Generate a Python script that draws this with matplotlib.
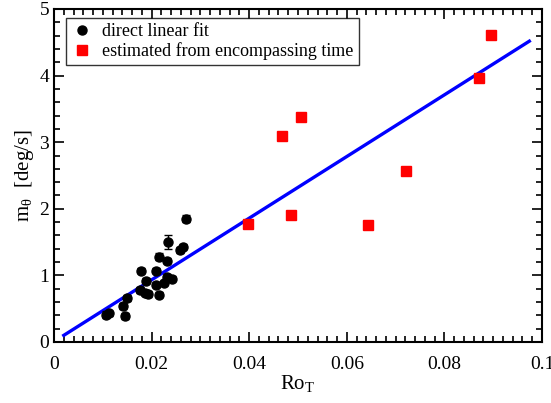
import matplotlib
matplotlib.use("Agg")
import matplotlib.pyplot as plt
from matplotlib.ticker import MultipleLocator
from matplotlib.lines import Line2D
import numpy as np

plt.rcParams['font.family'] = ['Liberation Serif', 'DejaVu Serif']
plt.rcParams['mathtext.fontset'] = 'custom'
plt.rcParams['mathtext.rm'] = 'Liberation Serif'
plt.rcParams['mathtext.it'] = 'Liberation Serif:italic'

# direct linear fit points
ro_direct = [0.0270, 0.0234, 0.0258, 0.0264, 0.0215, 0.0232, 0.0178, 0.0209,
             0.0231, 0.0242, 0.0189, 0.0209, 0.0225, 0.0176, 0.0186, 0.0193,
             0.0215, 0.0150, 0.0141, 0.0107, 0.0145, 0.0112]
m_direct = [1.85, 1.50, 1.38, 1.43, 1.28, 1.22, 1.07, 1.07,
            0.98, 0.95, 0.92, 0.86, 0.89, 0.78, 0.74, 0.72,
            0.71, 0.66, 0.54, 0.41, 0.39, 0.43]
m_direct_err = [0.05, 0.11, 0.04, 0.04, 0.05, 0.04, 0.04, 0.04,
                0.04, 0.04, 0.04, 0.04, 0.04, 0.04, 0.04, 0.04,
                0.04, 0.04, 0.04, 0.05, 0.04, 0.04]

# estimated from encompassing time
ro_est = [0.0398, 0.0467, 0.0506, 0.0486, 0.0643, 0.0721, 0.0871, 0.0895]
m_est = [1.77, 3.09, 3.38, 1.91, 1.76, 2.57, 3.96, 4.61]

# fit line
fit_x = [0.002, 0.0974]
fit_slope = 46.3
fit_intercept = 0.007

labels = ['direct linear fit', 'estimated from encompassing time']

fig = plt.figure(figsize=(5.51, 4.03), dpi=100)
ax = fig.add_axes([0.098, 0.1514, 0.8857, 0.8263])

fx = np.array(fit_x)
ax.plot(fx, fit_slope * fx + fit_intercept, color='#0000ff', lw=2.4, zorder=2)

ax.errorbar(ro_direct, m_direct, yerr=m_direct_err, fmt='o', color='black',
            markersize=6.5, elinewidth=1, capsize=3, zorder=3)
ax.plot(ro_est, m_est, 's', color='#ff0000', markersize=7, zorder=3)

ax.set_xlim(0, 0.1)
ax.set_ylim(0, 5)
ax.set_xticks([0, 0.02, 0.04, 0.06, 0.08, 0.1])
ax.set_xticklabels(['0', '0.02', '0.04', '0.06', '0.08', '0.1'])
ax.xaxis.set_minor_locator(MultipleLocator(0.002))
ax.yaxis.set_major_locator(MultipleLocator(1))
ax.yaxis.set_minor_locator(MultipleLocator(0.2))
ax.tick_params(which='both', direction='in', top=True, right=True,
               labelsize=14, width=1.2)
ax.tick_params(axis='x', which='major', pad=10)
ax.tick_params(which='major', length=7)
ax.tick_params(which='minor', length=4)
for s in ax.spines.values():
    s.set_linewidth(1.5)

ax.set_xlabel(r'Ro$_\mathregular{T}$', fontsize=15, labelpad=0)
ax.set_ylabel(r'm$_\mathregular{\theta}$  [deg/s]', fontsize=15, labelpad=2)

handles = [Line2D([], [], marker='o', color='black', ls='none', markersize=6.5),
           Line2D([], [], marker='s', color='#ff0000', ls='none', markersize=7)]
leg = ax.legend(handles, labels, loc='upper left', fontsize=13, frameon=True,
                fancybox=False, edgecolor='black', handletextpad=0.5,
                borderpad=0.3, labelspacing=0.1, handlelength=1.2,
                borderaxespad=0, bbox_to_anchor=(0.0246, 0.973))
leg.get_frame().set_linewidth(1.0)

fig.savefig('out.png', dpi=100)
